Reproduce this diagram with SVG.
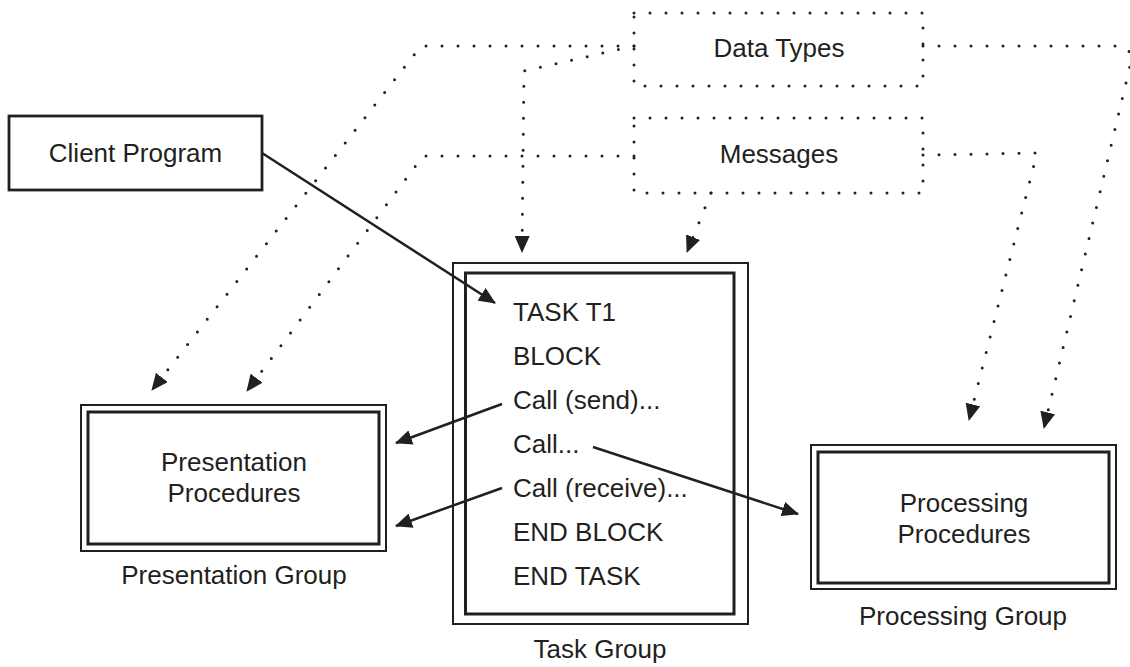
<svg xmlns="http://www.w3.org/2000/svg" width="1130" height="667" viewBox="0 0 1130 667">
<style>
.t{font-family:"Liberation Sans",Arial,sans-serif;font-size:26px;fill:#231f20}
.m{text-anchor:middle}
.dot{fill:none;stroke:#231f20;stroke-width:3;stroke-dasharray:0 16;stroke-linecap:round}
.sol{fill:none;stroke:#231f20;stroke-width:2.5}
.box{fill:#fff;stroke:#231f20;stroke-width:2.8}
.outer{fill:#fff;stroke:#231f20;stroke-width:2}
.inner{fill:none;stroke:#231f20;stroke-width:3}
</style>
<defs>
<marker id="ah" markerUnits="userSpaceOnUse" viewBox="0 0 17 15" refX="16" refY="7.5" markerWidth="17" markerHeight="15" orient="auto">
<path d="M0,0 L17,7.5 L0,15 z" fill="#231f20"/>
</marker>
</defs>
<rect width="1130" height="667" fill="#fff"/>

<g id="data-types">
<rect x="634" y="13" width="289" height="73" class="dot"/>
<text x="779" y="57" class="t m">Data Types</text>
</g>

<g id="messages">
<rect x="634" y="118" width="289" height="75" class="dot"/>
<text x="779" y="163" class="t m">Messages</text>
</g>

<g id="client-program">
<rect x="9" y="116" width="253" height="74" class="box"/>
<text x="135.5" y="162" class="t m">Client Program</text>
</g>

<g id="task-group">
<rect x="453" y="263" width="295" height="361" class="outer"/>
<rect x="465.5" y="273" width="268.5" height="341" class="inner"/>
<text x="513" y="321" class="t">TASK T1</text>
<text x="513" y="365" class="t">BLOCK</text>
<text x="513" y="409" class="t">Call (send)...</text>
<text x="513" y="453" class="t">Call...</text>
<text x="513" y="497" class="t">Call (receive)...</text>
<text x="513" y="541" class="t">END BLOCK</text>
<text x="513" y="585" class="t">END TASK</text>
<text x="600" y="658" class="t m">Task Group</text>
</g>

<g id="presentation-group">
<rect x="81" y="405" width="305" height="146" class="outer"/>
<rect x="88" y="412" width="291" height="132" class="inner"/>
<text x="234" y="471" class="t m">Presentation</text>
<text x="234" y="502" class="t m">Procedures</text>
<text x="234" y="584" class="t m">Presentation Group</text>
</g>

<g id="processing-group">
<rect x="811" y="445" width="305" height="144" class="outer"/>
<rect x="818" y="452" width="291" height="131" class="inner"/>
<text x="964" y="512" class="t m">Processing</text>
<text x="964" y="543" class="t m">Procedures</text>
<text x="963" y="625" class="t m">Processing Group</text>
</g>

<g id="connectors">
<path d="M634,46 L421,46 L152,390" class="dot" marker-end="url(#ah)"/>
<path d="M634,46 L524,71 L522,252" class="dot" marker-end="url(#ah)"/>
<path d="M634,156 L423,156 L247,391" class="dot" marker-end="url(#ah)"/>
<path d="M923,155 L1037,153 L969,420" class="dot" marker-end="url(#ah)"/>
<path d="M923,46 L1120,46 Q1133,47 1130,66 L1044,428" class="dot" marker-end="url(#ah)"/>
<path d="M711,193 L687,252" class="dot" marker-end="url(#ah)"/>
<path d="M262,153 L495,303" class="sol" marker-end="url(#ah)"/>
<path d="M502,404 L396,443" class="sol" marker-end="url(#ah)"/>
<path d="M502,488 L396,526" class="sol" marker-end="url(#ah)"/>
<path d="M593,447 L798,514" class="sol" marker-end="url(#ah)"/>
</g>
</svg>
